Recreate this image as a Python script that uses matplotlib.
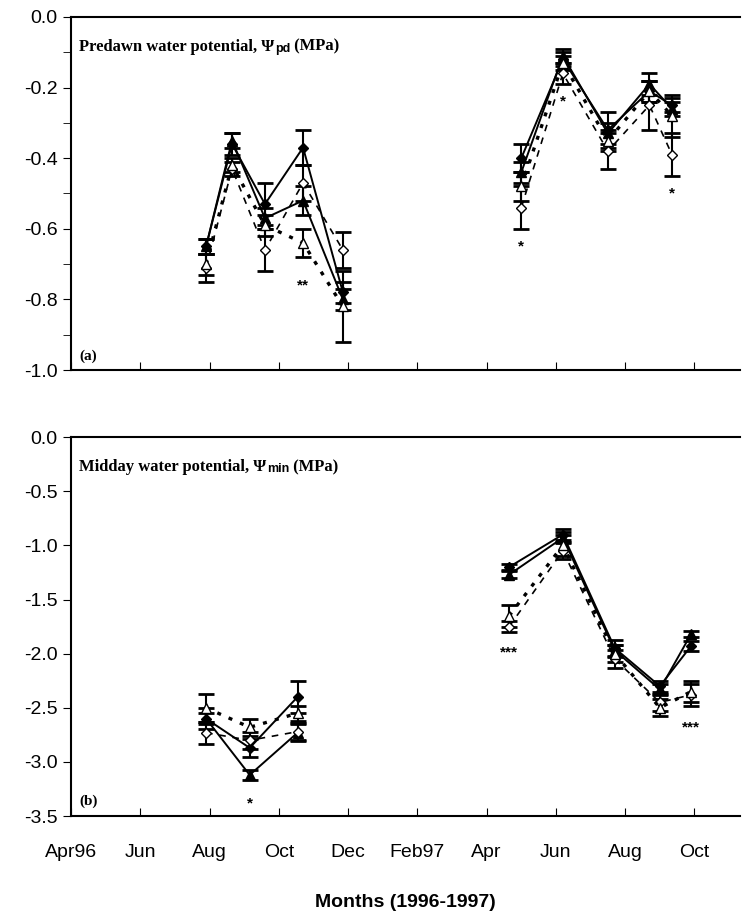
import numpy as np
import matplotlib.pyplot as plt

plt.rcParams['font.family'] = ['Liberation Sans', 'DejaVu Sans']

# x in months, 0 = 1 Apr 1996
tick_pos = np.arange(0, 19, 2)
tick_labels = ['Apr96', 'Jun', 'Aug', 'Oct', 'Dec', 'Feb97', 'Apr', 'Jun', 'Aug', 'Oct']

# (a) predawn water potential, two seasons
pa_t96 = [3.9, 4.65, 5.6, 6.7, 7.85]
pa_t97 = [13.0, 14.2, 15.5, 16.7, 17.35]
pa_vals = [
    ([-0.65, -0.36, -0.53, -0.37, -0.78], [-0.40, -0.12, -0.32, -0.21, -0.25]),
    ([-0.65, -0.35, -0.57, -0.52, -0.80], [-0.44, -0.11, -0.33, -0.19, -0.26]),
    ([-0.71, -0.43, -0.66, -0.47, -0.66], [-0.54, -0.16, -0.38, -0.25, -0.39]),
    ([-0.70, -0.42, -0.59, -0.64, -0.82], [-0.48, -0.13, -0.35, -0.21, -0.28]),
]
pa_err = [
    ([0.02, 0.03, 0.06, 0.05, 0.03], [0.04, 0.02, 0.05, 0.03, 0.02]),
    ([0.02, 0.02, 0.03, 0.04, 0.03], [0.03, 0.02, 0.03, 0.03, 0.02]),
    ([0.04, 0.02, 0.06, 0.05, 0.05], [0.06, 0.03, 0.05, 0.07, 0.06]),
    ([0.03, 0.02, 0.03, 0.04, 0.10], [0.04, 0.02, 0.03, 0.03, 0.06]),
]
pa_stars = [(6.7, -0.74, '**'), (13.0, -0.63, '*'), (14.2, -0.22, '*'), (17.35, -0.48, '*')]

# (b) midday water potential
pb_t96 = [3.9, 5.16, 6.54]
pb_t97 = [12.65, 14.2, 15.7, 17.0, 17.9]
pb_vals = [
    ([-2.60, -2.87, -2.40], [-1.20, -0.90, -1.95, -2.30, -1.93]),
    ([-2.60, -3.12, -2.73], [-1.27, -0.93, -1.97, -2.33, -1.82]),
    ([-2.73, -2.80, -2.72], [-1.75, -1.05, -2.05, -2.45, -2.38]),
    ([-2.50, -2.68, -2.55], [-1.65, -1.00, -2.00, -2.50, -2.35]),
]
pb_err = [
    ([0.10, 0.08, 0.15], [0.03, 0.05, 0.08, 0.05, 0.05]),
    ([0.05, 0.05, 0.08], [0.03, 0.05, 0.05, 0.05, 0.03]),
    ([0.10, 0.08, 0.08], [0.05, 0.08, 0.08, 0.08, 0.10]),
    ([0.13, 0.08, 0.07], [0.10, 0.10, 0.08, 0.08, 0.10]),
]
pb_stars = [(5.16, -3.32, '*'), (12.65, -1.92, '***'), (17.9, -2.62, '***')]

styles = [
    dict(marker='D', ms=5, mfc='black', ls='-', lw=1.4),
    dict(marker='^', ms=7, mfc='black', ls='-', lw=1.4),
    dict(marker='D', ms=5, mfc='white', ls=(0, (4, 4)), lw=1.2),
    dict(marker='^', ms=7, mfc='white', ls=(0, (1.2, 2.5)), lw=2.4),
]

fig = plt.figure(figsize=(7.47, 9.17), dpi=100)
ax_a = fig.add_axes([0.095, 0.5965, 0.895, 0.385])
ax_b = fig.add_axes([0.095, 0.110, 0.895, 0.4134])


def fmt(v):
    return f'{v:.1f}' if abs(v) > 1e-9 else '0.0'


def draw(ax, t96, t97, vals, errs, stars):
    for st, (v96, v97), (e96, e97) in zip(styles, vals, errs):
        for t, v, e in ((t96, v96, e96), (t97, v97, e97)):
            ax.errorbar(t, v, yerr=e, color='black', mec='black', capsize=6,
                        capthick=2, elinewidth=1.5, **st)
    for x, y, s in stars:
        ax.text(x, y, s, ha='center', va='top', fontsize=11, fontweight='bold')
    ax.set_xlim(0, 19.3)
    ax.set_xticks(tick_pos)
    ax.tick_params(axis='x', direction='in', length=6, labelbottom=False)
    ax.tick_params(axis='y', direction='out', length=6, labelsize=14)
    ax.spines['right'].set_visible(False)
    for sp in ax.spines.values():
        sp.set_linewidth(1.5)


def title(ax, main, sub, label, y):
    t1 = ax.text(0.012, y, main, transform=ax.transAxes, family='Liberation Serif',
                 fontweight='bold', fontsize=12, va='baseline')
    t2 = ax.annotate(sub, xy=(1, 0), xycoords=t1, xytext=(0.5, 0), textcoords='offset points',
                     fontsize=9, fontweight='bold', va='bottom')
    ax.annotate(' (MPa)', xy=(1, 0), xycoords=t2, family='Liberation Serif',
                fontweight='bold', fontsize=12, va='bottom')
    ax.text(0.012, 0.03, label, transform=ax.transAxes, family='Liberation Serif',
            fontweight='bold', fontsize=11)


draw(ax_a, pa_t96, pa_t97, pa_vals, pa_err, pa_stars)
ax_a.set_ylim(-1.0, 0.0)
yt_a = np.arange(-1.0, 0.01, 0.2)
ax_a.set_yticks(yt_a)
ax_a.set_yticks(np.arange(-0.9, 0.0, 0.2), minor=True)
ax_a.tick_params(axis='y', which='minor', direction='out', length=6)
ax_a.set_yticklabels([fmt(v) for v in yt_a])
title(ax_a, 'Predawn water potential, \u03a8', 'pd', '(a)', 0.905)

draw(ax_b, pb_t96, pb_t97, pb_vals, pb_err, pb_stars)
ax_b.set_ylim(-3.5, 0.0)
yt_b = np.arange(-3.5, 0.01, 0.5)
ax_b.set_yticks(yt_b)
ax_b.set_yticklabels([fmt(v) for v in yt_b])
ax_b.tick_params(axis='x', labelbottom=True, labelsize=14, pad=20)
ax_b.set_xticklabels(tick_labels)
ax_b.set_xlabel('Months (1996-1997)', fontsize=14, fontweight='bold', labelpad=24)
title(ax_b, 'Midday water potential, \u03a8', 'min', '(b)', 0.91)

fig.savefig('out.png', dpi=100)
